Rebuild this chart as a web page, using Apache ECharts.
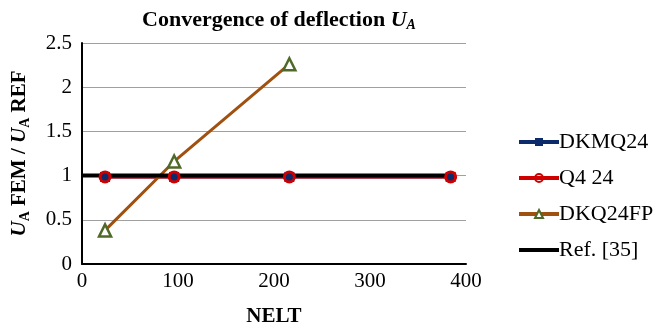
<!DOCTYPE html>
<html>
<head>
<meta charset="utf-8">
<script src="https://cdn.jsdelivr.net/npm/echarts@6/dist/echarts.min.js"></script>
<style>
html,body{margin:0;padding:0;background:#fff;}
#chart{width:654px;height:332px;}
</style>
</head>
<body>
<div id="chart"></div>
<script>
var nelt = [24, 96, 216, 384];
var dkmq24 = [0.985, 0.985, 0.985, 0.985];
var q424 = [0.985, 0.985, 0.985, 0.985];
var dkq24fp = [0.38, 1.16, 2.26];
var refX = [0, 384];
var refY = [1, 1];
var seriesNames = ['DKMQ24', 'Q4 24', 'DKQ24FP', 'Ref. [35]'];

function pairs(xs, ys){
	var out = [];
	for(var i = 0; i < ys.length; i++){
		out.push([xs[i], ys[i]]);
	}
	return out;
}

var font = '"Liberation Serif", "Times New Roman", serif';
var myChart = echarts.init(document.getElementById('chart'));
myChart.setOption({
	backgroundColor: '#fff',
	animation: false,
	textStyle: { fontFamily: font },
	title: {
		text: 'Convergence of deflection {i|U}{s|A}',
		left: 274,
		textAlign: 'center',
		top: 3,
		textStyle: {
			fontFamily: font,
			fontSize: 22,
			fontWeight: 'bold',
			color: '#000',
			rich: {
				i: { fontFamily: font, fontSize: 22, fontWeight: 'bold', fontStyle: 'italic', color: '#000' },
				s: { fontFamily: font, fontSize: 14, fontWeight: 'bold', fontStyle: 'italic', color: '#000', padding: [10, 0, 0, 0] }
			}
		}
	},
	legend: {
		orient: 'vertical',
		left: 512,
		top: 126,
		itemWidth: 40,
		itemHeight: 10,
		itemGap: 14,
		lineStyle: { width: 4 },
		data: [
			seriesNames[0],
			seriesNames[1],
			seriesNames[2],
			{ name: seriesNames[3], icon: 'path://M0,0h40v4h-40z' }
		],
		textStyle: { fontFamily: font, fontSize: 22, color: '#000', padding: [0, 0, 0, -5] }
	},
	grid: {
		left: 82,
		right: 188,
		top: 43,
		bottom: 65
	},
	xAxis: {
		type: 'value',
		min: 0,
		max: 400,
		interval: 100,
		name: 'NELT',
		nameLocation: 'middle',
		nameGap: 42,
		nameTextStyle: { fontFamily: font, fontSize: 21, fontWeight: 'bold', color: '#000' },
		axisLine: { show: true, lineStyle: { color: '#000', width: 2 } },
		axisTick: { show: false },
		splitLine: { show: false },
		axisLabel: { fontFamily: font, fontSize: 21, color: '#000', margin: 7 }
	},
	yAxis: {
		type: 'value',
		min: 0,
		max: 2.5,
		interval: 0.5,
		name: '{i|U}{s|A}{b| FEM / }{i|U}{s|A}{b| REF}',
		nameLocation: 'middle',
		nameGap: 50,
		nameRotate: 90,
		nameTextStyle: {
			fontFamily: font,
			fontSize: 21,
			fontWeight: 'bold',
			color: '#000',
			rich: {
				b: { fontFamily: font, fontSize: 21, fontWeight: 'bold', color: '#000' },
				i: { fontFamily: font, fontSize: 21, fontWeight: 'bold', fontStyle: 'italic', color: '#000' },
				s: { fontFamily: font, fontSize: 14, fontWeight: 'bold', color: '#000', padding: [10, 0, 0, 0] }
			}
		},
		axisLine: { show: true, lineStyle: { color: '#000', width: 2 } },
		axisTick: { show: false },
		splitLine: { show: true, lineStyle: { color: '#a0a0a0', width: 1 } },
		axisLabel: { fontFamily: font, fontSize: 21, color: '#000', margin: 10 }
	},
	series: [
		{
			name: seriesNames[0],
			type: 'line',
			data: pairs(nelt, dkmq24),
			symbol: 'rect',
			symbolSize: 10,
			lineStyle: { color: '#0d2a6b', width: 3 },
			itemStyle: { color: '#0d2a6b' }
		},
		{
			name: seriesNames[1],
			type: 'line',
			data: pairs(nelt, q424),
			symbol: 'circle',
			symbolSize: 10,
			lineStyle: { color: '#d00000', width: 3 },
			itemStyle: { color: 'rgba(255,255,255,0)', borderColor: '#d00000', borderWidth: 3 }
		},
		{
			name: seriesNames[2],
			type: 'line',
			data: pairs(nelt, dkq24fp),
			symbol: 'triangle',
			symbolSize: 12,
			lineStyle: { color: '#a0500f', width: 3 },
			itemStyle: { color: '#fff', borderColor: '#4f6a28', borderWidth: 2.5 }
		},
		{
			name: seriesNames[3],
			type: 'line',
			data: pairs(refX, refY),
			symbol: 'none',
			lineStyle: { color: '#000', width: 4 },
			itemStyle: { color: '#000' }
		}
	]
});
</script>
</body>
</html>
